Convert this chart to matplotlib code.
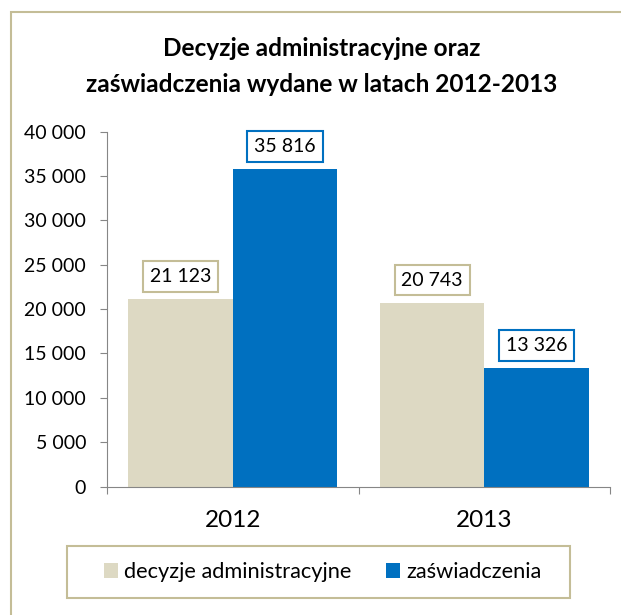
import matplotlib.pyplot as plt
from matplotlib.patches import Rectangle
from matplotlib.ticker import FuncFormatter, FixedLocator
import numpy as np

plt.rcParams['font.family'] = ['Lato', 'DejaVu Sans']

years = ["2012", "2013"]
series_names = ["decyzje administracyjne", "zaświadczenia"]
decyzje = [21123, 20743]
zaswiadczenia = [35816, 13326]

beige = "#DDD9C3"
blue = "#0070C0"
tan = "#C4BD97"
grey = "#868686"

W, H = 621, 615
fig = plt.figure(figsize=(W / 100, H / 100), dpi=100)

# outer chart frame
fig.patches.append(Rectangle((11 / W, -0.1), 1.2, 1 - 12 / H + 0.1, transform=fig.transFigure,
                             fill=False, edgecolor=tan, linewidth=1.5))

ax = fig.add_axes([107 / W, 1 - 486.5 / H, 503 / W, 354.8 / H])

x = np.arange(len(years))
bw = 0.415
b1 = ax.bar(x - bw / 2, decyzje, bw, color=beige, label=series_names[0])
b2 = ax.bar(x + bw / 2, zaswiadczenia, bw, color=blue, label=series_names[1])

def fmt(v):
    return f"{int(v):,}".replace(",", " ")

for bars, vals, ec in [(b1, decyzje, tan), (b2, zaswiadczenia, blue)]:
    for rect, v in zip(bars, vals):
        ax.annotate(fmt(v), (rect.get_x() + rect.get_width() / 2, v),
                    xytext=(0, 14), textcoords="offset pixels",
                    ha="center", va="bottom", fontsize=14,
                    bbox=dict(boxstyle="square,pad=0.35", fc="white", ec=ec, lw=1.5))

ax.set_xlim(-0.5, 1.5)
ax.set_ylim(0, 40000)
ax.set_yticks(np.arange(0, 40001, 5000))
ax.yaxis.set_major_formatter(FuncFormatter(lambda v, p: fmt(v)))
ax.tick_params(axis="y", labelsize=14, length=5, color=grey, pad=10)

ax.xaxis.set_major_locator(FixedLocator([-0.5, 0.5, 1.5]))
ax.xaxis.set_minor_locator(FixedLocator(x))
ax.set_xticks(x, years, minor=True)
ax.tick_params(axis="x", which="major", labelbottom=False, length=5, color=grey)
ax.tick_params(axis="x", which="minor", length=0, labelsize=17.5, pad=17)

for s in ["top", "right"]:
    ax.spines[s].set_visible(False)
for s in ["left", "bottom"]:
    ax.spines[s].set_color(grey)

fig.text(322 / W, 1 - 48 / H, "Decyzje administracyjne oraz", ha="center", va="center",
         fontsize=17.6, fontweight="bold")
fig.text(322 / W, 1 - 84 / H, "zaświadczenia wydane w latach 2012-2013", ha="center", va="center",
         fontsize=17.6, fontweight="bold")

# legend frame drawn separately
fig.patches.append(Rectangle((67 / W, 1 - 598 / H), 503 / W, 52 / H, transform=fig.transFigure,
                             fill=False, edgecolor=tan, linewidth=1.5))
fig.legend(loc="center", bbox_to_anchor=(322.5 / W, 1 - 572 / H), ncol=2,
           fontsize=15.7, frameon=False,
           handlelength=0.64, handleheight=0.64, handletextpad=0.28,
           columnspacing=1.6, borderpad=0)

fig.savefig("out.png", dpi=100)
